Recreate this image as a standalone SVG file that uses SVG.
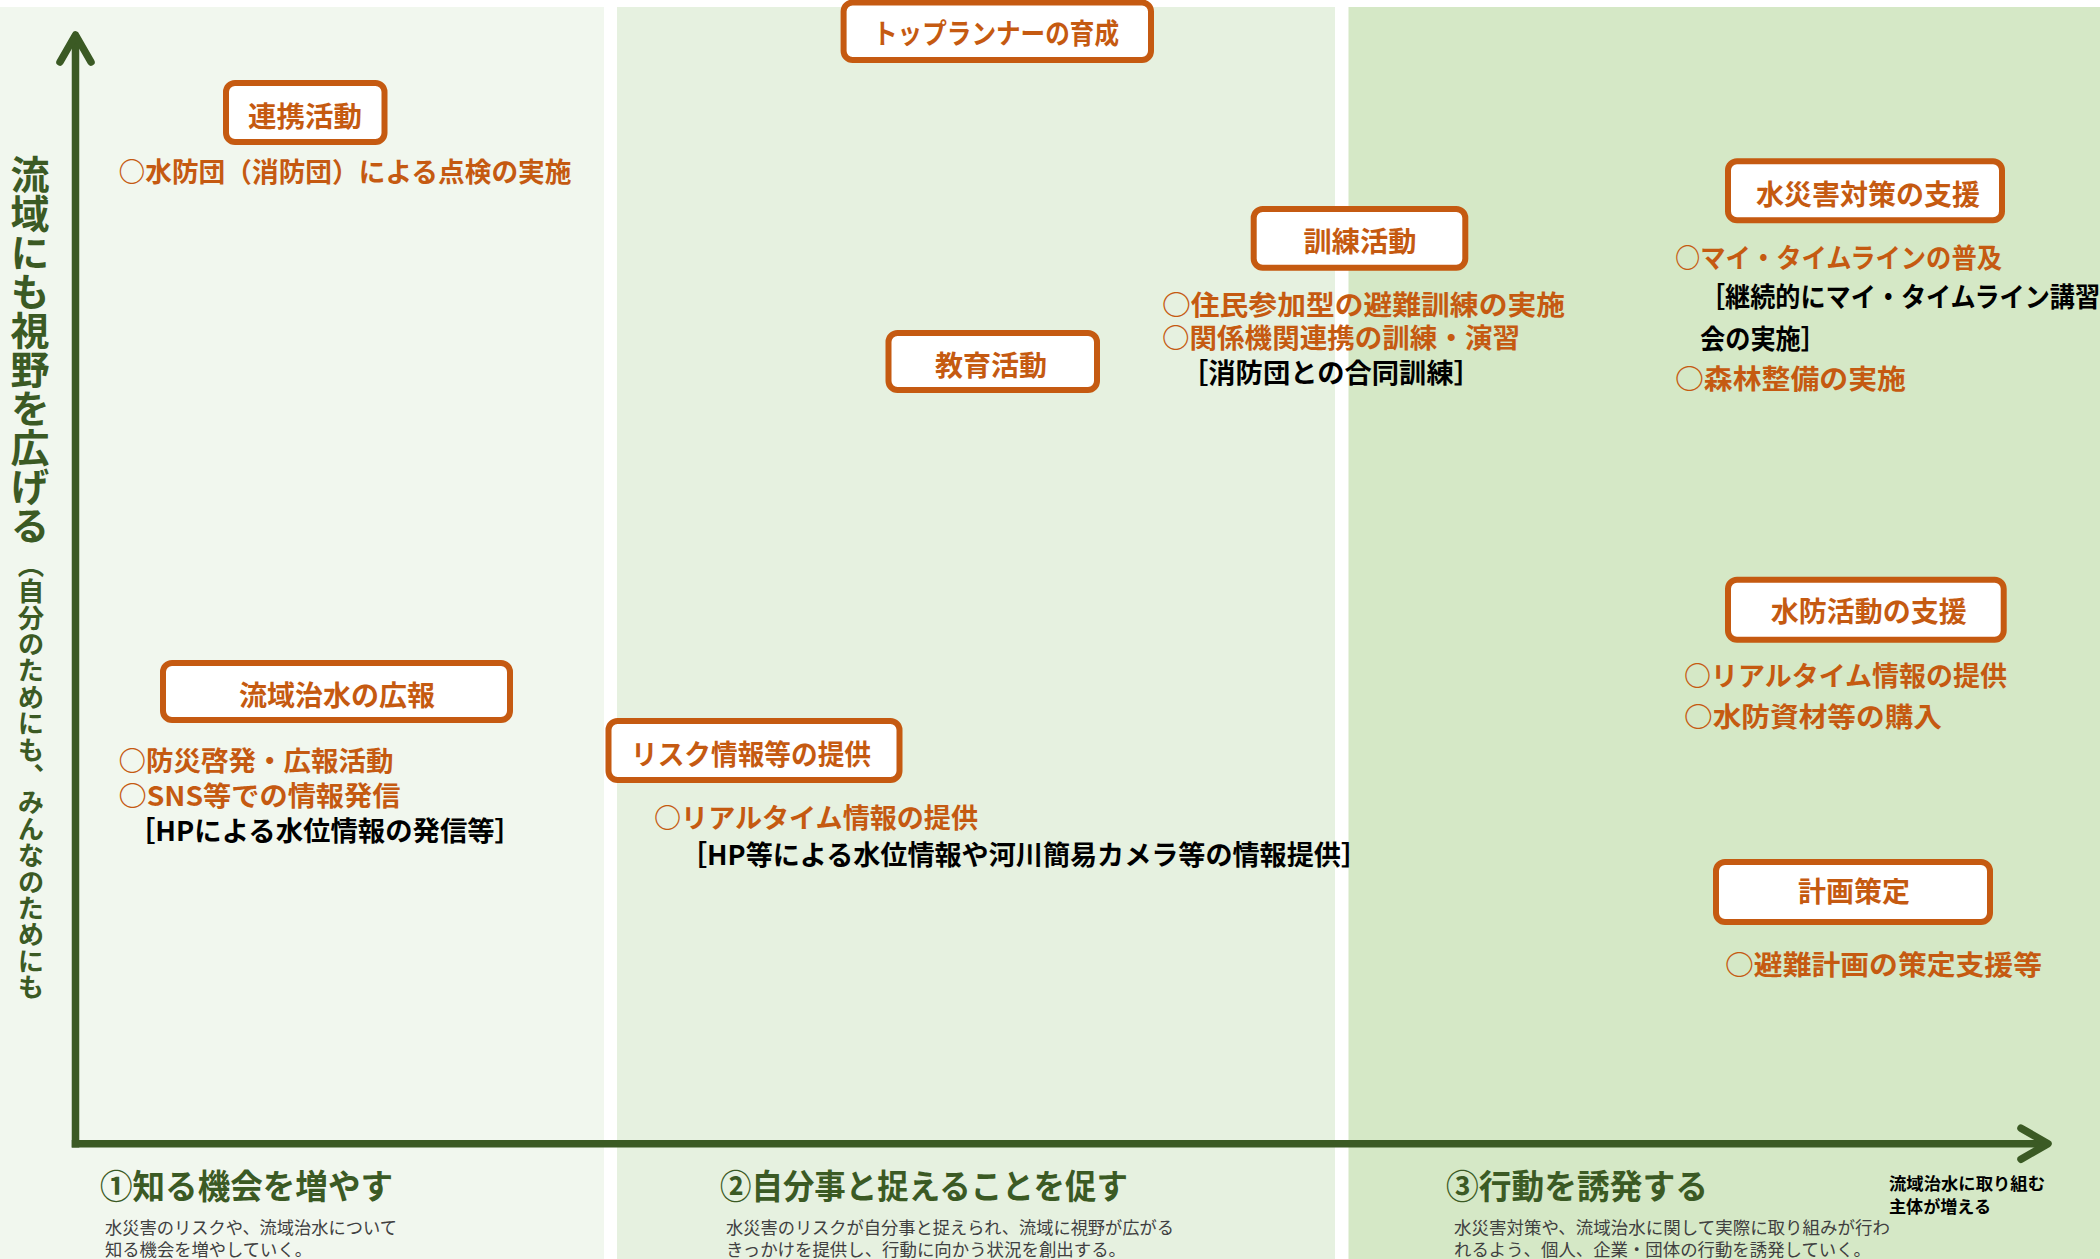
<svg xmlns="http://www.w3.org/2000/svg" width="2100" height="1259" viewBox="0 0 2100 1259">
<style>
text{font-family:"Noto Sans CJK JP","Noto Sans CJK SC",sans-serif;}
.box rect{fill:#ffffff;stroke:#c55a11;stroke-width:6;}
.lbl{font-weight:700;font-size:28px;fill:#c55a11;text-anchor:middle;}
.item{font-weight:700;font-size:27px;fill:#c55a11;}
.note{font-weight:700;font-size:27px;fill:#000000;}
.head{font-weight:700;font-size:34px;fill:#3b5a24;}
.desc{font-weight:400;font-size:17.5px;fill:#404040;}
.sub{font-weight:700;font-size:17px;fill:#000000;}
.vbig{font-weight:700;font-size:39px;fill:#3b5a24;writing-mode:vertical-rl;}
.vsmall{font-weight:700;font-size:26.4px;fill:#3b5a24;writing-mode:vertical-rl;}
.axis{fill:none;stroke:#3b5a24;stroke-width:7.5;}
</style>
<defs>
<marker id="chev" markerUnits="userSpaceOnUse" viewBox="-36 -24 44 48" markerWidth="44" markerHeight="48" refX="0" refY="0" orient="auto" overflow="visible">
<path d="M-27,-15.5 L0,0 L-27,15.5" fill="none" stroke="#3b5a24" stroke-width="7.5" stroke-linecap="round" stroke-linejoin="round"/>
</marker>
</defs>
<rect x="0" y="0" width="2100" height="1259" fill="#ffffff"/>
<g id="panels">
<rect x="0" y="7" width="604" height="1252" fill="#f1f7ee"/>
<rect x="617" y="7" width="718" height="1252" fill="#e6f1e0"/>
<rect x="1348.5" y="7" width="751.5" height="1252" fill="#d5e8c6"/>
</g>
<g id="connectors">
<path class="axis" d="M75.5,1147.45 L75.5,35" marker-end="url(#chev)"/>
<path class="axis" d="M71.75,1143.7 L2048,1143.7" marker-end="url(#chev)"/>
</g>
<g id="y-axis-label">
<text class="vbig" x="30" y="154.5">流域にも視野を広げる</text>
<text class="vsmall" x="31" y="551.6">（自分のためにも、みんなのためにも</text>
</g>
<g id="node-renkei" class="box">
<rect x="226" y="83" width="158.5" height="59" rx="9"/>
<text class="lbl" x="305" y="127" textLength="114" lengthAdjust="spacingAndGlyphs">連携活動</text>
</g>
<g id="node-renkei-items">
<text class="item" x="118.5" y="182" textLength="453" lengthAdjust="spacingAndGlyphs">○水防団（消防団）による点検の実施</text>
</g>
<g id="node-koho" class="box">
<rect x="163" y="663" width="347" height="57" rx="9"/>
<text class="lbl" x="337" y="706" textLength="196" lengthAdjust="spacingAndGlyphs">流域治水の広報</text>
</g>
<g id="node-koho-items">
<text class="item" x="118.5" y="771" textLength="275" lengthAdjust="spacingAndGlyphs">○防災啓発・広報活動</text>
<text class="item" x="118.5" y="806" textLength="282" lengthAdjust="spacingAndGlyphs">○SNS等での情報発信</text>
<text class="note" x="128" y="841" textLength="394" lengthAdjust="spacingAndGlyphs">［HPによる水位情報の発信等］</text>
</g>
<g id="node-toprunner" class="box">
<rect x="843.6" y="2.5" width="307.4" height="57.5" rx="9"/>
<text class="lbl" x="996" y="44" textLength="246" lengthAdjust="spacingAndGlyphs">トップランナーの育成</text>
</g>
<g id="node-kyoiku" class="box">
<rect x="888.5" y="333" width="208.5" height="57" rx="9"/>
<text class="lbl" x="991" y="376" textLength="112" lengthAdjust="spacingAndGlyphs">教育活動</text>
</g>
<g id="node-risk" class="box">
<rect x="608.5" y="721" width="291" height="59" rx="9"/>
<text class="lbl" x="751" y="765" textLength="240" lengthAdjust="spacingAndGlyphs">リスク情報等の提供</text>
</g>
<g id="node-risk-items">
<text class="item" x="654" y="828" textLength="324" lengthAdjust="spacingAndGlyphs">○リアルタイム情報の提供</text>
<text class="note" x="680" y="865" textLength="688" lengthAdjust="spacingAndGlyphs">［HP等による水位情報や河川簡易カメラ等の情報提供］</text>
</g>
<g id="node-kunren" class="box">
<rect x="1253.7" y="209" width="211.6" height="58.7" rx="9"/>
<text class="lbl" x="1360" y="252" textLength="113" lengthAdjust="spacingAndGlyphs">訓練活動</text>
</g>
<g id="node-kunren-items">
<text class="item" x="1162" y="315" textLength="403" lengthAdjust="spacingAndGlyphs">○住民参加型の避難訓練の実施</text>
<text class="item" x="1162" y="348" textLength="358" lengthAdjust="spacingAndGlyphs">○関係機関連携の訓練・演習</text>
<text class="note" x="1181" y="383" textLength="300" lengthAdjust="spacingAndGlyphs">［消防団との合同訓練］</text>
</g>
<g id="node-suisaigai" class="box">
<rect x="1728" y="161.3" width="274" height="59" rx="9"/>
<text class="lbl" x="1868" y="205" textLength="224" lengthAdjust="spacingAndGlyphs">水災害対策の支援</text>
</g>
<g id="node-suisaigai-items">
<text class="item" x="1675" y="268" textLength="327" lengthAdjust="spacingAndGlyphs">○マイ・タイムラインの普及</text>
<text class="note" x="1700" y="307" textLength="400" lengthAdjust="spacingAndGlyphs">［継続的にマイ・タイムライン講習</text>
<text class="note" x="1700" y="349" textLength="126" lengthAdjust="spacingAndGlyphs">会の実施］</text>
<text class="item" x="1675" y="389" textLength="231" lengthAdjust="spacingAndGlyphs">○森林整備の実施</text>
</g>
<g id="node-suibo" class="box">
<rect x="1728" y="579.7" width="275.7" height="60" rx="9"/>
<text class="lbl" x="1868.7" y="622" textLength="196" lengthAdjust="spacingAndGlyphs">水防活動の支援</text>
</g>
<g id="node-suibo-items">
<text class="item" x="1684" y="686" textLength="323" lengthAdjust="spacingAndGlyphs">○リアルタイム情報の提供</text>
<text class="item" x="1684" y="727" textLength="258" lengthAdjust="spacingAndGlyphs">○水防資材等の購入</text>
</g>
<g id="node-keikaku" class="box">
<rect x="1716" y="862" width="274" height="60" rx="9"/>
<text class="lbl" x="1854" y="902" textLength="112" lengthAdjust="spacingAndGlyphs">計画策定</text>
</g>
<g id="node-keikaku-items">
<text class="item" x="1725" y="975" textLength="317" lengthAdjust="spacingAndGlyphs">○避難計画の策定支援等</text>
</g>
<g id="stage-1">
<text class="head" x="100" y="1199" textLength="293" lengthAdjust="spacingAndGlyphs">①知る機会を増やす</text>
<text class="desc" x="105" y="1234" textLength="292" lengthAdjust="spacingAndGlyphs">水災害のリスクや、流域治水について</text>
<text class="desc" x="105" y="1256" textLength="207" lengthAdjust="spacingAndGlyphs">知る機会を増やしていく。</text>
</g>
<g id="stage-2">
<text class="head" x="720" y="1199" textLength="408" lengthAdjust="spacingAndGlyphs">②自分事と捉えることを促す</text>
<text class="desc" x="726" y="1234" textLength="448" lengthAdjust="spacingAndGlyphs">水災害のリスクが自分事と捉えられ、流域に視野が広がる</text>
<text class="desc" x="726" y="1256" textLength="400" lengthAdjust="spacingAndGlyphs">きっかけを提供し、行動に向かう状況を創出する。</text>
</g>
<g id="stage-3">
<text class="head" x="1446" y="1199" textLength="262" lengthAdjust="spacingAndGlyphs">③行動を誘発する</text>
<text class="desc" x="1454" y="1234" textLength="436" lengthAdjust="spacingAndGlyphs">水災害対策や、流域治水に関して実際に取り組みが行わ</text>
<text class="desc" x="1454" y="1256" textLength="417" lengthAdjust="spacingAndGlyphs">れるよう、個人、企業・団体の行動を誘発していく。</text>
</g>
<g id="x-axis-label">
<text class="sub" x="1889" y="1190" textLength="156" lengthAdjust="spacingAndGlyphs">流域治水に取り組む</text>
<text class="sub" x="1889" y="1213" textLength="102" lengthAdjust="spacingAndGlyphs">主体が増える</text>
</g>
</svg>
